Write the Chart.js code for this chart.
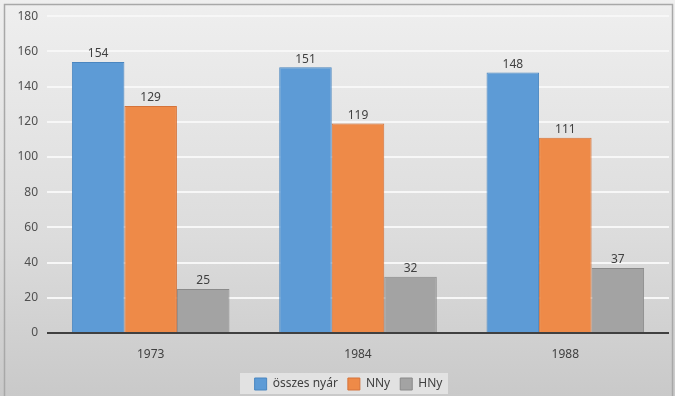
<!DOCTYPE html>
<html><head><meta charset="utf-8">
<script src="https://cdn.jsdelivr.net/npm/chart.js@4.4.1/dist/chart.umd.min.js"></script>
<style>html,body{margin:0;padding:0;background:#ddd}#w{width:675px;height:396px;position:relative}</style>
</head><body><div id="w"><canvas id="c" width="675" height="396"></canvas></div>
<script>
const categories = ['1973', '1984', '1988'];
const seriesNames = ['összes nyár', 'NNy', 'HNy'];
const osszes = [154, 151, 148];
const nny = [129, 119, 111];
const hny = [25, 32, 37];
const yTicks = [0, 20, 40, 60, 80, 100, 120, 140, 160, 180];

const FONT = "'Noto Sans', 'Open Sans', sans-serif";

const bgPlugin = {
  id: 'bg',
  afterLayout(chart) {
    const lg = chart.legend;
    if (lg) { lg.left += 10; lg.right += 10; lg.top += 7; lg.bottom += 7; }
  },
  beforeDraw(chart) {
    const ctx = chart.ctx, w = chart.width, h = chart.height;
    const g = ctx.createLinearGradient(0, 0, 0, h);
    g.addColorStop(0, '#efefef');
    g.addColorStop(0.6, '#dcdcdc');
    g.addColorStop(1, '#c9c9c9');
    ctx.save();
    ctx.fillStyle = g;
    ctx.fillRect(0, 0, w, h);
    ctx.strokeStyle = '#a8a8a8';
    ctx.lineWidth = 1.5;
    ctx.strokeRect(4.5, 4.5, w - 7, h);
    ctx.fillStyle = '#e2e2e2';
    ctx.fillRect(240, 373, 208, 21);
    ctx.restore();
  }
};

const labelPlugin = {
  id: 'vals',
  afterDatasetsDraw(chart) {
    const ctx = chart.ctx;
    ctx.save();
    ctx.font = '12px ' + FONT;
    ctx.fillStyle = '#404040';
    ctx.textAlign = 'center';
    ctx.textBaseline = 'bottom';
    chart.data.datasets.forEach((ds, i) => {
      chart.getDatasetMeta(i).data.forEach((bar, j) => {
        ctx.fillText(String(ds.data[j]), bar.x, bar.y - 2);
      });
    });
    ctx.restore();
  }
};

const axisLinePlugin = {
  id: 'axline',
  afterDatasetsDraw(chart) {
    const ctx = chart.ctx, a = chart.chartArea;
    const y = chart.scales.y.getPixelForValue(0);
    ctx.save();
    ctx.strokeStyle = '#404040';
    ctx.lineWidth = 2;
    ctx.beginPath();
    ctx.moveTo(a.left, y);
    ctx.lineTo(a.right, y);
    ctx.stroke();
    ctx.restore();
  }
};

new Chart(document.getElementById('c'), {
  type: 'bar',
  data: {
    labels: categories,
    datasets: [
      { label: seriesNames[0], data: osszes, backgroundColor: '#5d9bd6', borderColor: '#4a86c0', borderWidth: 1 },
      { label: seriesNames[1], data: nny, backgroundColor: '#ee8a48', borderColor: '#d5733a', borderWidth: 1 },
      { label: seriesNames[2], data: hny, backgroundColor: '#a3a3a3', borderColor: '#8a8a8a', borderWidth: 1 }
    ]
  },
  options: {
    responsive: false,
    animation: false,
    devicePixelRatio: 1,
    layout: { padding: { left: 8, right: 6, top: 13, bottom: 3 } },
    datasets: { bar: { categoryPercentage: 0.76, barPercentage: 1.0 } },
    scales: {
      x: {
        grid: { display: false },
        border: { display: false },
        ticks: { color: '#404040', font: { size: 12, family: FONT }, padding: 6 },
        afterFit(s) { s.height = 28; }
      },
      y: {
        min: 0, max: 180,
        afterBuildTicks(s) { s.ticks = yTicks.map(v => ({ value: v })); },
        grid: { color: '#f7f7f7', lineWidth: 2, drawTicks: false },
        border: { display: false },
        ticks: { color: '#505050', font: { size: 12, family: FONT }, padding: 9 },
        afterFit(s) { s.width = 39; }
      }
    },
    plugins: {
      legend: {
        position: 'bottom',
        labels: {
          boxWidth: 12, boxHeight: 12, padding: 10,
          color: '#404040', font: { size: 12, family: FONT }
        }
      },
      tooltip: { enabled: false }
    }
  },
  plugins: [bgPlugin, labelPlugin, axisLinePlugin]
});
</script></body></html>
